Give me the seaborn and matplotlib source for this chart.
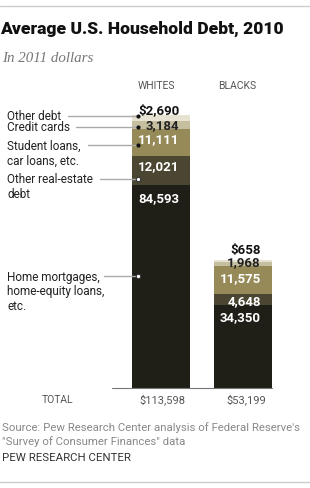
import matplotlib
matplotlib.use("Agg")
import matplotlib.pyplot as plt
import seaborn as sns
import numpy as np
from matplotlib import font_manager

groups = ["WHITES", "BLACKS"]
categories = ["Home mortgages,\nhome-equity loans,\netc.", "Other real-estate\ndebt",
              "Student loans,\ncar loans, etc.", "Credit cards", "Other debt"]
whites = [84593, 12021, 11111, 3184, 2690]
blacks = [34350, 4648, 11575, 1968, 658]
white_labels = ["84,593", "12,021", "11,111", "3,184", "$2,690"]
black_labels = ["34,350", "4,648", "11,575", "1,968", "$658"]
totals = ["$113,598", "$53,199"]

colors = ["#1f1e17", "#4b4631", "#968b58", "#c5bf9f", "#e6e3d2"]
label_colors = ["white", "white", "white", "#222222", "#111111"]

names = {f.name for f in font_manager.fontManager.ttflist}
sans = "Liberation Sans Narrow" if "Liberation Sans Narrow" in names else "Roboto"

sns.set_theme(style="white")
plt.rcParams["font.family"] = [sans, "DejaVu Sans"]

W, H = 310, 489
fig = plt.figure(figsize=(W / 100, H / 100), dpi=100)

def fx(x):
    return x / W

def fy(y):
    return 1 - y / H

# axes placement in pixel space
base_y, top_y = 389, 116
left_px, right_px = 112, 272
ax = fig.add_axes([fx(left_px), fy(base_y), (right_px - left_px) / W, (base_y - top_y) / H])

cum = np.cumsum(np.array([whites, blacks]), axis=1)  # shape (2,5)

# draw from the top of the stack down so lower segments overlay upper ones
for i in range(len(categories) - 1, -1, -1):
    sns.barplot(x=groups, y=cum[:, i], color=colors[i], width=0.71,
                saturation=1, ax=ax, linewidth=0, order=groups)

ax.set_xlim(-0.601, 1.356)
ax.set_ylim(0, cum[0, -1])
ax.axis("off")
ax.plot([-0.601, 1.356], [0, 0], color="#777777", lw=0.8, clip_on=False, zorder=5)

# value labels, right-aligned inside bars
w_off = [-13, -10, -9, -3, 5]
b_off = [-11, -6, -11, 0, 11]
xr = [0 + 0.355 - 11 / 81.5, 1 + 0.355 - 11 / 81.5]
for gi, (labs, offs) in enumerate([(white_labels, w_off), (black_labels, b_off)]):
    for i in range(len(categories)):
        ax.annotate(labs[i], xy=(xr[gi], cum[gi, i]), xytext=(0, offs[i]),
                    textcoords="offset pixels", ha="right", va="center",
                    fontsize=9.5, fontweight="bold", color=label_colors[i],
                    annotation_clip=False)

# header / footer text
fig.text(fx(0), fy(29), "Average U.S. Household Debt, 2010", fontsize=12.6,
         fontweight="heavy", color="#111111", va="center", ha="left")
fig.text(fx(2), fy(59), "In 2011 dollars", fontsize=10.8, style="italic",
         family=["Liberation Serif", "DejaVu Serif"], color="#777777", va="center")
fig.text(fx(156), fy(86), "WHITES", fontsize=7.5, color="#555555", ha="center", va="center")
fig.text(fx(237), fy(86), "BLACKS", fontsize=7.5, color="#555555", ha="center", va="center")
fig.text(fx(42), fy(400), "TOTAL", fontsize=7.5, color="#555555", ha="left", va="center")
fig.text(fx(162), fy(400), totals[0], fontsize=8, color="#555555", ha="center", va="center")
fig.text(fx(246), fy(400), totals[1], fontsize=8, color="#555555", ha="center", va="center")
fig.text(fx(2), fy(428), "Source: Pew Research Center analysis of Federal Reserve's",
         fontsize=8.2, color="#888888", ha="left", va="center")
fig.text(fx(2), fy(442), "\"Survey of Consumer Finances\" data",
         fontsize=8.2, color="#888888", ha="left", va="center")
fig.text(fx(2), fy(458), "PEW RESEARCH CENTER", fontsize=8.2, color="#333333", ha="left", va="center")

# callout labels with leader lines
callouts = [  # (category index, text y, line start x, dot y, open circle)
    (4, 116, 68, 117, False),
    (3, 128, 76, 128, False),
    (2, 146, 88, 146, False),
    (1, 180, 100, 180, True),
    (0, 277, 104, 277, True),
]
for ci, ty, lx, dy, hollow in callouts:
    for k, ln in enumerate(categories[ci].split("\n")):
        fig.text(fx(7), fy(ty + k * 15), ln, fontsize=8.5, color="#222222", ha="left", va="center")
    fig.add_artist(plt.Line2D([fx(lx), fx(138)], [fy(dy), fy(dy)], color="#aaaaaa", lw=1))
    if hollow:
        fig.add_artist(plt.Line2D([fx(138)], [fy(dy)], marker="o", ms=3.2, mfc="white",
                                  mec="#333333", mew=0.8, ls="none"))
    else:
        fig.add_artist(plt.Line2D([fx(138)], [fy(dy)], marker="o", ms=2, mfc="#111111",
                                  mec="#111111", ls="none"))

# rules at top and bottom
fig.add_artist(plt.Line2D([0, 1], [fy(7), fy(7)], color="#cccccc", lw=1))
fig.add_artist(plt.Line2D([0, 1], [fy(483), fy(483)], color="#cccccc", lw=1))

fig.savefig("out.png", dpi=100, facecolor="white")
